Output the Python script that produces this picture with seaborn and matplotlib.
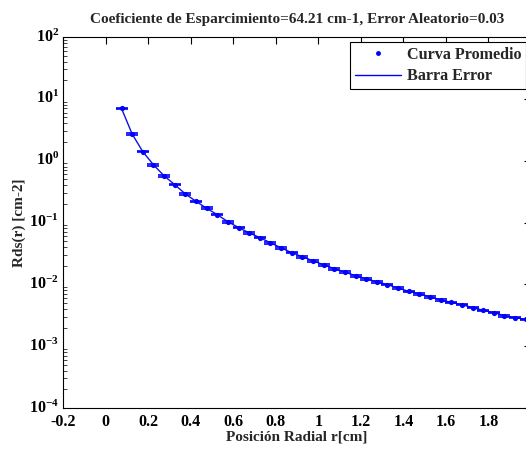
import numpy as np
import pandas as pd
import matplotlib
matplotlib.use("Agg")
import matplotlib.pyplot as plt
import matplotlib.transforms as mtransforms
import seaborn as sns
from matplotlib.lines import Line2D
from matplotlib.ticker import LogLocator, FixedLocator, NullFormatter

# ---- data ----
r_cm = [0.075, 0.125, 0.175, 0.225, 0.275, 0.325, 0.375, 0.425, 0.475, 0.525,
        0.575, 0.625, 0.675, 0.725, 0.775, 0.825, 0.875, 0.925, 0.975, 1.025,
        1.075, 1.125, 1.175, 1.225, 1.275, 1.325, 1.375, 1.425, 1.475, 1.525,
        1.575, 1.625, 1.675, 1.725, 1.775, 1.825, 1.875, 1.925, 1.975]
rds = [7.0, 2.7, 1.4, 0.86, 0.57, 0.41, 0.29, 0.22, 0.17, 0.134,
       0.103, 0.083, 0.068, 0.057, 0.047, 0.039, 0.0325, 0.028, 0.024, 0.0207,
       0.0179, 0.0158, 0.0138, 0.0123, 0.0110, 0.0099, 0.0087, 0.0077, 0.0070, 0.0063,
       0.0056, 0.0051, 0.0047, 0.0042, 0.0038, 0.0035, 0.0031, 0.0029, 0.0027]
rel_error = 0.03
x_ticks = [-0.2, 0, 0.2, 0.4, 0.6, 0.8, 1, 1.2, 1.4, 1.6, 1.8, 2.0]
x_tick_labels = ["-0.2", "0", "0.2", "0.4", "0.6", "0.8", "1", "1.2", "1.4", "1.6", "1.8", ""]
y_exponents = [-4, -3, -2, -1, 0, 1, 2]
title = "Coeficiente de Esparcimiento=64.21 cm-1, Error Aleatorio=0.03"
xlabel = "Posición Radial r[cm]"
ylabel = "Rds(r) [cm-2]"
legend_labels = ["Curva Promedio", "Barra Error"]

df = pd.DataFrame({"r": r_cm, "rds": rds})
df["err"] = df["rds"] * rel_error

sns.set_style("white")
plt.rcParams["font.family"] = ["Liberation Serif", "DejaVu Serif"]
plt.rcParams["font.weight"] = "bold"
plt.rcParams["mathtext.fontset"] = "custom"
plt.rcParams["mathtext.rm"] = "Liberation Serif:bold"
plt.rcParams["mathtext.bf"] = "Liberation Serif:bold"
plt.rcParams["mathtext.it"] = "Liberation Serif:bold"

W, H = 526, 449
fig = plt.figure(figsize=(W / 100, H / 100), dpi=100)
left, right, top, bottom = 63, 531, 37, 408
ax = fig.add_axes([left / W, 1 - bottom / H, (right - left) / W, (bottom - top) / H])

blue = "#0000ff"
sns.lineplot(data=df, x="r", y="rds", ax=ax, color="#1010e0", linewidth=1.0, sort=False)
ax.errorbar(df["r"], df["rds"], yerr=df["err"], fmt="none", ecolor=blue,
            elinewidth=1.0, capsize=4.0, capthick=1.2)
sns.scatterplot(data=df, x="r", y="rds", ax=ax, color=blue, marker="o", s=14,
                edgecolor=blue, linewidth=0)

ax.set_yscale("log")
ax.set_xlim(-0.2, 2.0)
ax.set_ylim(1e-4, 1e2)

ax.xaxis.set_major_locator(FixedLocator(x_ticks))
ax.set_xticklabels(x_tick_labels)
ax.yaxis.set_major_locator(FixedLocator([10.0 ** e for e in y_exponents]))
ax.set_yticklabels([r"$\mathbf{10^{%d}}$" % e for e in y_exponents])
ax.yaxis.set_minor_locator(LogLocator(base=10, subs=np.arange(2, 10), numticks=20))
ax.yaxis.set_minor_formatter(NullFormatter())

ax.tick_params(axis="both", which="major", direction="in", length=5, width=0.8,
               top=True, right=True, labelsize=11.5, colors="black", pad=3)
ax.tick_params(axis="x", which="major", pad=4)
ax.tick_params(axis="y", which="minor", direction="in", length=3, width=0.6,
               left=True, right=True)
for lab in ax.get_xticklabels() + ax.get_yticklabels():
    lab.set_fontweight("bold")
up = mtransforms.ScaledTranslation(0, 2 / 100, fig.dpi_scale_trans)
for lab in ax.get_yticklabels():
    lab.set_transform(lab.get_transform() + up)

for sp in ax.spines.values():
    sp.set_visible(True)
    sp.set_color("black")
    sp.set_linewidth(0.8)

ax.set_title(title, fontsize=11, fontweight="bold", pad=10)
ax.set_xlabel(xlabel, fontsize=11, fontweight="bold", labelpad=1)
ax.set_ylabel(ylabel, fontsize=11, fontweight="bold", labelpad=2)

handles = [Line2D([], [], color=blue, marker=".", linestyle="none", markersize=5),
           Line2D([], [], color=blue, linewidth=1.0)]
leg = ax.legend(handles, legend_labels, loc="upper left",
                bbox_to_anchor=((350 - left) / (right - left), (bottom - 42) / (bottom - top)),
                frameon=True, fancybox=False, edgecolor="black", framealpha=1,
                prop={"weight": "bold", "size": 11.6}, borderpad=0.3,
                handlelength=2.85, handletextpad=0.37, labelspacing=0.35,
                borderaxespad=0)
leg.get_frame().set_linewidth(0.8)

fig.savefig("out.png", dpi=100)
